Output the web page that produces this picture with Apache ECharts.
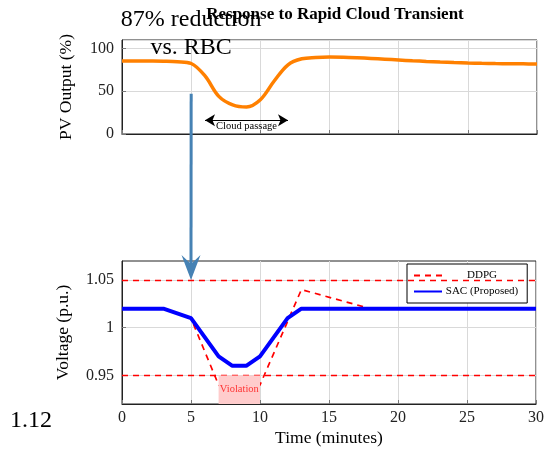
<!DOCTYPE html>
<html lang="en">
<head>
    <meta charset="UTF-8">
    <title>Response to Rapid Cloud Transient</title>
    <style>
        html, body { margin: 0; padding: 0; background: #fff; }
        #main { width: 547px; height: 455px; }
    </style>
</head>
<body>
    <div id="main"></div>
</body>
<script src="https://cdn.jsdelivr.net/npm/echarts@6/dist/echarts.min.js"></script>
<script>
    // PV output (%) per minute
    var minutes = [];
    for (var m = 0; m <= 30; m++) minutes.push(m);
    var pvOutput = [85.5, 85.5, 85.4, 85.2, 84.6, 82.5, 68, 44, 34, 31.5, 40, 62, 81, 88, 89.5, 90,
        89.8, 89.2, 88.4, 87.5, 86.6, 85.7, 84.9, 84.2, 83.6, 83.1, 82.7, 82.4, 82.2, 82.1, 82];

    // voltage (p.u.)
    var sacTime = [0, 3, 5, 7, 8, 9, 10, 12, 13, 30];
    var sacVolt = [1.02, 1.02, 1.01, 0.97, 0.96, 0.96, 0.97, 1.01, 1.02, 1.02];
    var ddpgTime = [0, 3, 5, 7, 8, 9, 10, 13, 18, 30];
    var ddpgVolt = [1.02, 1.02, 1.01, 0.94, 0.93, 0.93, 0.94, 1.04, 1.02, 1.02];

    var voltLimits = [0.95, 1.05];
    var voltTicks = [0.95, 1, 1.05];
    var violation = [7, 10];
    var cloudPassage = [6, 12, 16];   // from, to, at PV level
    var arrowFrom = [5, 47];          // top chart
    var arrowTo = [5, 1.05];          // bottom chart

    function zip(xs, ys) {
        return xs.map(function (x, i) { return [x, ys[i]]; });
    }

    var serif = 'Liberation Serif';
    var gridGray = '#d9d9d9';

    var myChart = echarts.init(document.getElementById('main'));

    function xAxisOpt(idx, withLabels) {
        return {
            type: 'value', gridIndex: idx, min: 0, max: 30, interval: 5,
            name: withLabels ? 'Time (minutes)' : '',
            nameLocation: 'middle', nameGap: 25,
            nameTextStyle: { fontFamily: serif, fontSize: 17.5, color: '#000' },
            axisLine: { lineStyle: { color: '#222', width: 1 } },
            axisTick: { inside: true, length: 4, lineStyle: { color: '#777' } },
            axisLabel: { show: withLabels, fontFamily: serif, fontSize: 16, color: '#222', margin: 6 },
            splitLine: { show: true, lineStyle: { color: gridGray } }
        };
    }

    option = {
        animation: false,
        title: {
            text: 'Response to Rapid Cloud Transient',
            left: 330, top: 1, textAlign: 'center',
            textStyle: { fontFamily: serif, fontWeight: 'bold', fontSize: 17, color: '#000' }
        },
        legend: {
            data: ['DDPG', 'SAC (Proposed)'],
            orient: 'vertical',
            left: 407, top: 264,
            padding: [6, 9, 6, 6],
            itemGap: 5, itemWidth: 28, itemHeight: 12,
            backgroundColor: '#fff',
            borderColor: '#000', borderWidth: 1,
            itemStyle: { opacity: 0 },
            formatter: function (name) { return '{t|' + name + '}'; },
            textStyle: {
                rich: { t: { fontFamily: serif, fontSize: 11, color: '#000', width: 70, align: 'center' } }
            }
        },
        grid: [
            { left: 122, right: 10, top: 40, height: 94, show: true, borderColor: '#222', borderWidth: 1 },
            { left: 122, right: 10, top: 261, height: 143, show: true, borderColor: '#222', borderWidth: 1 }
        ],
        xAxis: [xAxisOpt(0, false), xAxisOpt(1, true)],
        yAxis: [
            {
                type: 'value', gridIndex: 0, min: 0, max: 110, interval: 50,
                name: 'PV Output (%)', nameLocation: 'middle', nameGap: 47,
                nameTextStyle: { fontFamily: serif, fontSize: 17.5, color: '#000' },
                axisLine: { show: true, lineStyle: { color: '#222' } },
                axisTick: { show: true, inside: true, length: 4, lineStyle: { color: '#777' } },
                axisLabel: { fontFamily: serif, fontSize: 16, color: '#222', margin: 8 },
                splitLine: { show: true, lineStyle: { color: gridGray } }
            },
            {
                type: 'value', gridIndex: 1, min: 0.92, max: 1.07,
                name: 'Voltage (p.u.)', nameLocation: 'middle', nameGap: 50,
                nameTextStyle: { fontFamily: serif, fontSize: 17.5, color: '#000' },
                axisLine: { show: true, lineStyle: { color: '#222' } },
                axisTick: { show: true, inside: true, length: 4, customValues: voltTicks, lineStyle: { color: '#777' } },
                axisLabel: {
                    fontFamily: serif, fontSize: 16, color: '#222', margin: 8, customValues: voltTicks,
                    formatter: function (v) { return v === 1 ? '1' : v.toFixed(2); }
                },
                splitLine: { show: true, lineStyle: { color: gridGray } }
            }
        ],
        series: [
            {
                name: 'PV', type: 'line', xAxisIndex: 0, yAxisIndex: 0,
                data: zip(minutes, pvOutput), smooth: 0.35, symbol: 'none',
                lineStyle: { color: '#ff8000', width: 3.5 },
                markLine: {
                    silent: true, symbol: ['arrow', 'arrow'], symbolSize: [9, 10],
                    lineStyle: { color: '#000', width: 1.2, type: 'solid' },
                    label: {
                        show: true, position: 'insideMiddleBottom', distance: 0,
                        formatter: 'Cloud passage', fontFamily: serif, fontSize: 10.5, color: '#000'
                    },
                    data: [[{ coord: [cloudPassage[0], cloudPassage[2]] }, { coord: [cloudPassage[1], cloudPassage[2]] }]]
                }
            },
            {
                name: 'DDPG', type: 'line', xAxisIndex: 1, yAxisIndex: 1, z: 2,
                data: zip(ddpgTime, ddpgVolt), symbol: 'none',
                itemStyle: { color: '#ff0000' },
                lineStyle: { color: '#ff0000', width: 1.7, type: [6, 5] },
                markLine: {
                    silent: true, symbol: 'none', label: { show: false },
                    lineStyle: { color: '#ff0000', width: 1.4, type: [6, 5] },
                    data: voltLimits.map(function (v) { return { yAxis: v }; })
                }
            },
            {
                name: 'Violation', type: 'line', xAxisIndex: 1, yAxisIndex: 1, z: 6,
                data: [], symbol: 'none',
                markArea: {
                    silent: true, z: 6,
                    itemStyle: { color: '#ffcccc', opacity: 1 },
                    label: { show: true, position: 'inside', fontFamily: serif, fontSize: 10.5, color: '#ff3333' },
                    data: [[{ name: 'Violation', coord: [violation[0], 0.92] }, { coord: [violation[1], voltLimits[0]] }]]
                }
            },
            {
                name: 'SAC (Proposed)', type: 'line', xAxisIndex: 1, yAxisIndex: 1, z: 7,
                data: zip(sacTime, sacVolt), symbol: 'none',
                itemStyle: { color: '#0000ff' },
                lineStyle: { color: '#0000ff', width: 4 }
            }
        ]
    };
    myChart.setOption(option);

    // arrow linking the two panels, plus the stray text labels
    var p0 = myChart.convertToPixel({ gridIndex: 0 }, arrowFrom);
    var p1 = myChart.convertToPixel({ gridIndex: 1 }, arrowTo);
    var headLen = 25, headHalf = 9.5;
    myChart.setOption({
        graphic: [
            {
                type: 'line', z: 100,
                shape: { x1: p0[0], y1: p0[1], x2: p1[0], y2: p1[1] - 14 },
                style: { stroke: '#4682b4', lineWidth: 3 }
            },
            {
                type: 'polygon', z: 100,
                shape: {
                    points: [[p1[0], p1[1]], [p1[0] - headHalf, p1[1] - headLen],
                        [p1[0], p1[1] - headLen + 9], [p1[0] + headHalf, p1[1] - headLen]]
                },
                style: { fill: '#4682b4' }
            },
            {
                type: 'text', z: 100, x: p0[0], y: 20,
                style: { text: '87% reduction', fontFamily: serif, fontSize: 24, fill: '#000', align: 'center', verticalAlign: 'middle' }
            },
            {
                type: 'text', z: 100, x: p0[0], y: 48,
                style: { text: 'vs. RBC', fontFamily: serif, fontSize: 24, fill: '#000', align: 'center', verticalAlign: 'middle' }
            },
            {
                type: 'text', z: 100, x: 10, y: 421,
                style: { text: '1.12', fontFamily: serif, fontSize: 24, fill: '#000', align: 'left', verticalAlign: 'middle' }
            }
        ]
    });
</script>
</html>
